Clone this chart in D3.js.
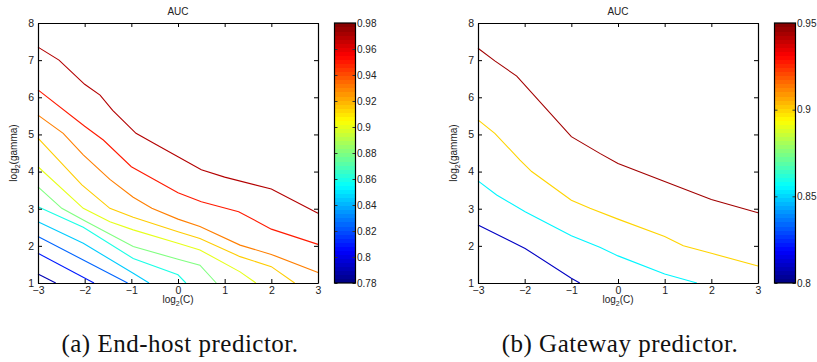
<!DOCTYPE html>
<html><head><meta charset="utf-8">
<script src="https://cdn.jsdelivr.net/npm/d3@7"></script>
<style>body{margin:0;background:#fff}svg{display:block}</style>
</head><body>
<svg id="chart" width="817" height="362"></svg>
<script>
// ---------- data ----------
const xTicks = [-3, -2, -1, 0, 1, 2, 3];
const yTicks = [1, 2, 3, 4, 5, 6, 7, 8];

// Left panel (End-host predictor): contour levels and their paths [log2(C), log2(gamma)]
const leftRange = [0.78, 0.98];
const leftCbTicks = [0.78, 0.80, 0.82, 0.84, 0.86, 0.88, 0.90, 0.92, 0.94, 0.96, 0.98];
const leftLevels = [0.97, 0.95, 0.93, 0.915, 0.90, 0.88, 0.86, 0.845, 0.825, 0.81, 0.79];
const leftLine1 = [[-3,7.35],[-2.55,7.0],[-2,6.35],[-1.67,6.06],[-1.4,5.65],[-0.9,5.03],[-0.5,4.75],[0,4.4],[0.5,4.05],[1,3.85],[2,3.53],[3,2.88]];
const leftLine2 = [[-3,6.2],[-2,5.22],[-1.6,4.85],[-1,4.13],[-0.5,3.78],[0,3.43],[0.5,3.19],[1.3,2.92],[2,2.45],[3,2.04]];
const leftLine3 = [[-3,5.52],[-2.46,5.03],[-2.03,4.45],[-1.46,3.79],[-0.96,3.31],[-0.56,3.01],[0,2.72],[0.47,2.52],[1.33,2.02],[2,1.77],[3,1.28]];
const leftLine4 = [[-3,4.9],[-2.06,3.64],[-1.46,3.01],[-0.96,2.77],[0,2.38],[0.47,2.2],[1.33,1.71],[2,1.44],[2.5,1.0]];
const leftLine5 = [[-3,4.13],[-2.03,3.01],[-1.46,2.65],[-0.96,2.43],[0,2.07],[0.47,1.89],[1.33,1.3],[1.67,1.0]];
const leftLine6 = [[-3,3.59],[-2.49,3.01],[-1.96,2.65],[-0.96,1.98],[0,1.64],[0.47,1.48],[0.82,1.0]];
const leftLine7 = [[-3,3.05],[-2.03,2.5],[-0.96,1.66],[0,1.22],[0.17,1.0]];
const leftLine8 = [[-3,2.65],[-2.03,2.07],[-0.96,1.26],[-0.62,1.0]];
const leftLine9 = [[-3,2.25],[-2.03,1.62],[-1.08,1.0]];
const leftLine10 = [[-3,1.8],[-1.8,1.0]];
const leftLine11 = [[-3,1.24],[-2.62,1.0]];
const leftLines = [leftLine1, leftLine2, leftLine3, leftLine4, leftLine5, leftLine6, leftLine7, leftLine8, leftLine9, leftLine10, leftLine11];

// Right panel (Gateway predictor)
const rightRange = [0.80, 0.95];
const rightCbTicks = [0.80, 0.85, 0.90, 0.95];
const rightLevels = [0.945, 0.90, 0.855, 0.81];
const rightLine1 = [[-3,7.32],[-2.64,6.98],[-2.17,6.57],[-1,4.94],[-0.39,4.49],[0,4.22],[1,3.73],[2,3.25],[3,2.89]];
const rightLine2 = [[-3,5.39],[-2.64,5.03],[-2.1,4.31],[-1.85,4.0],[-1,3.23],[-0.6,3.01],[0,2.72],[1,2.25],[1.4,2.0],[2,1.8],[3,1.46]];
const rightLine3 = [[-3,3.75],[-2.6,3.37],[-1.99,2.92],[-1,2.27],[-0.39,1.96],[0,1.73],[1,1.24],[1.69,1.0]];
const rightLine4 = [[-3,2.56],[-1.99,1.93],[-1,1.13],[-0.82,1.0]];
const rightLines = [rightLine1, rightLine2, rightLine3, rightLine4];

const titles = ["AUC", "AUC"];
const captions = ["(a) End-host predictor.", "(b) Gateway predictor."];

// ---------- helpers ----------
function jet(t) {
  t = Math.max(0, Math.min(1, t));
  const c = v => Math.round(255 * Math.max(0, Math.min(1, v)));
  return `rgb(${c(1.5 - Math.abs(4*t - 3))},${c(1.5 - Math.abs(4*t - 2))},${c(1.5 - Math.abs(4*t - 1))})`;
}
const fmt = v => String(+v.toFixed(2));

const svg = d3.select("#chart");
const sans = "'Liberation Sans', Arial, Helvetica, sans-serif";

function panel(ox, lines, levels, range, cbTicks, title, caption) {
  const left = ox, right = ox + 280, top = 23, bottom = 283;
  const x = d3.scaleLinear().domain([-3, 3]).range([left, right]);
  const y = d3.scaleLinear().domain([1, 8]).range([bottom, top]);
  const g = svg.append("g");

  // contour lines
  const line = d3.line().x(d => x(d[0])).y(d => y(d[1]));
  const cscale = d3.scaleLinear().domain(range).range([0, 1]);
  lines.forEach((pts, i) => {
    g.append("path").attr("d", line(pts)).attr("fill", "none")
      .attr("stroke", jet(cscale(levels[i]))).attr("stroke-width", 1.1);
  });

  // axes (inward ticks)
  const tl = 4;
  const xb = g.append("g").attr("transform", `translate(0,${bottom})`)
    .call(d3.axisBottom(x).tickValues(xTicks).tickSizeInner(-tl).tickSizeOuter(0).tickPadding(4)
      .tickFormat(d => d < 0 ? "\u2212" + Math.abs(d) : String(d)));
  const xt = g.append("g").attr("transform", `translate(0,${top})`)
    .call(d3.axisTop(x).tickValues(xTicks).tickSizeInner(-tl).tickSizeOuter(0).tickFormat(""));
  const yl = g.append("g").attr("transform", `translate(${left},0)`)
    .call(d3.axisLeft(y).tickValues(yTicks).tickSizeInner(-tl).tickSizeOuter(0).tickPadding(4)
      .tickFormat(d => String(d)));
  const yr = g.append("g").attr("transform", `translate(${right},0)`)
    .call(d3.axisRight(y).tickValues(yTicks).tickSizeInner(-tl).tickSizeOuter(0).tickFormat(""));
  [xb, xt, yl, yr].forEach(a => {
    a.selectAll("path").attr("stroke", "#000").attr("stroke-width", 1.2);
    a.selectAll("line").attr("stroke", "#000");
    a.selectAll("text").attr("font-family", sans).attr("font-size", 10.5).attr("fill", "#222");
  });

  // title
  g.append("text").attr("x", (left + right) / 2).attr("y", 15).attr("text-anchor", "middle")
    .attr("font-family", sans).attr("font-size", 10).attr("fill", "#222").text(title);
  // x label
  const xlab = g.append("text").attr("x", (left + right) / 2).attr("y", 303).attr("text-anchor", "middle")
    .attr("font-family", sans).attr("font-size", 10).attr("fill", "#222");
  xlab.append("tspan").text("log");
  xlab.append("tspan").attr("font-size", 7).attr("dy", 3).text("2");
  xlab.append("tspan").attr("dy", -3).text("(C)");
  // y label
  const ylab = g.append("text").attr("transform", `translate(${left - 21},${(top + bottom) / 2}) rotate(-90)`)
    .attr("text-anchor", "middle").attr("font-family", sans).attr("font-size", 10).attr("fill", "#222");
  ylab.append("tspan").text("log");
  ylab.append("tspan").attr("font-size", 7).attr("dy", 3).text("2");
  ylab.append("tspan").attr("dy", -3).text("(gamma)");

  // colorbar
  const cbx = right + 16.5, cbw = 21;
  const cy = d3.scaleLinear().domain(range).range([bottom, top]);
  const n = 64;
  const band = (bottom - top) / n;
  d3.range(n).forEach(i => {
    g.append("rect").attr("x", cbx).attr("width", cbw)
      .attr("y", bottom - (i + 1) * band).attr("height", band + 0.4)
      .attr("fill", jet((i + 0.5) / n)).attr("shape-rendering", "crispEdges");
  });
  const cbAxisR = g.append("g").attr("transform", `translate(${cbx + cbw},0)`)
    .call(d3.axisRight(cy).tickValues(cbTicks).tickSizeInner(-3).tickSizeOuter(0).tickPadding(1.5).tickFormat(fmt));
  const cbAxisL = g.append("g").attr("transform", `translate(${cbx},0)`)
    .call(d3.axisLeft(cy).tickValues(cbTicks).tickSizeInner(-3).tickSizeOuter(0).tickFormat(""));
  [cbAxisR, cbAxisL].forEach(a => {
    a.select("path").remove();
    a.selectAll("line").attr("stroke", "#333");
    a.selectAll("text").attr("font-family", sans).attr("font-size", 10).attr("fill", "#222");
  });
  g.append("rect").attr("x", cbx).attr("y", top).attr("width", cbw).attr("height", bottom - top)
    .attr("fill", "none").attr("stroke", "#000").attr("stroke-width", 1.2);

  // caption
  svg.append("text").attr("x", (left + right) / 2 + 2).attr("y", 352).attr("text-anchor", "middle")
    .attr("font-family", "'Liberation Serif', 'DejaVu Serif', serif").attr("font-size", 25)
    .attr("letter-spacing", 0.5).attr("fill", "#111").text(caption);
}

panel(38, leftLines, leftLevels, leftRange, leftCbTicks, titles[0], captions[0]);
panel(478, rightLines, rightLevels, rightRange, rightCbTicks, titles[1], captions[1]);
</script>
</body></html>
